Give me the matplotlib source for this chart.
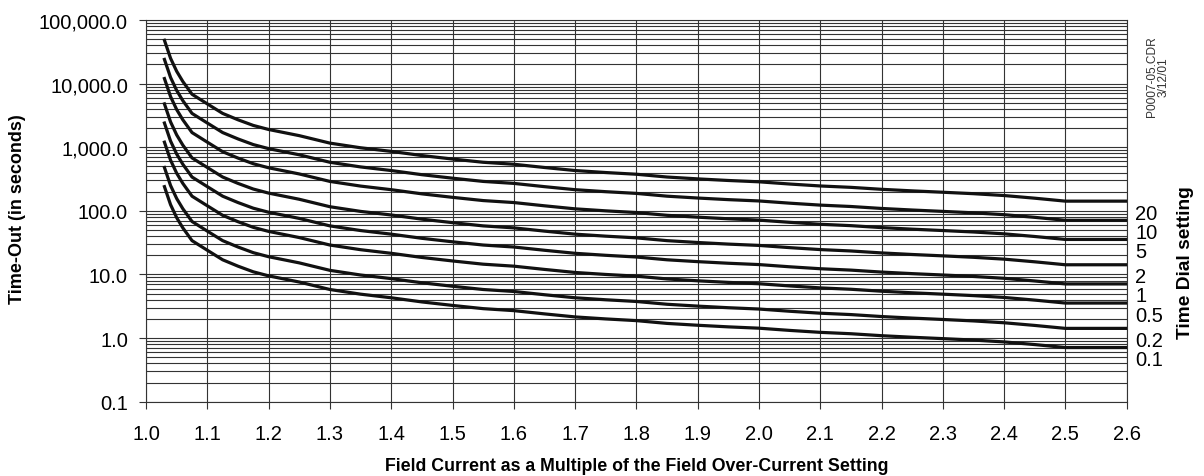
import matplotlib
matplotlib.use("Agg")
import matplotlib.pyplot as plt
from matplotlib.ticker import FixedLocator, FuncFormatter, LogLocator, NullFormatter

plt.rcParams['font.family'] = ['Liberation Sans', 'DejaVu Sans']

# field current (multiple of pickup)
current = [1.03, 1.04, 1.05, 1.06, 1.075, 1.1, 1.125, 1.15, 1.175, 1.2, 1.25, 1.3, 1.35,
           1.4, 1.45, 1.5, 1.55, 1.6, 1.65, 1.7, 1.75, 1.8, 1.85, 1.9, 1.95, 2.0, 2.05,
           2.1, 2.15, 2.2, 2.25, 2.3, 2.35, 2.4, 2.45, 2.5, 2.6]

# time-out in seconds, one list per time dial setting
t_dial_20 = [48000, 25000, 15600, 10800, 6800, 4800, 3400, 2700, 2200, 1900, 1520, 1160, 980,
             860, 740, 652, 580, 540, 480, 430, 400, 376, 340, 318, 300, 286, 264,
             246, 234, 218, 206, 196, 186, 174, 158, 142, 142]
t_dial_10 = [24000, 12500, 7800, 5400, 3400, 2400, 1700, 1350, 1100, 950, 760, 580, 490,
             430, 370, 326, 290, 270, 240, 215, 200, 188, 170, 159, 150, 143, 132,
             123, 117, 109, 103, 98, 93, 87, 79, 71, 71]
t_dial_5 = [12000, 6250, 3900, 2700, 1700, 1200, 850, 675, 550, 475, 380, 290, 245,
            215, 185, 163, 145, 135, 120, 107.5, 100, 94, 85, 79.5, 75, 71.5, 66,
            61.5, 58.5, 54.5, 51.5, 49, 46.5, 43.5, 39.5, 35.5, 35.5]
t_dial_2 = [4800, 2500, 1560, 1080, 680, 480, 340, 270, 220, 190, 152, 116, 98,
            86, 74, 65.2, 58, 54, 48, 43, 40, 37.6, 34, 31.8, 30, 28.6, 26.4,
            24.6, 23.4, 21.8, 20.6, 19.6, 18.6, 17.4, 15.8, 14.2, 14.2]
t_dial_1 = [2400, 1250, 780, 540, 340, 240, 170, 135, 110, 95, 76, 58, 49,
            43, 37, 32.6, 29, 27, 24, 21.5, 20, 18.8, 17, 15.9, 15, 14.3, 13.2,
            12.3, 11.7, 10.9, 10.3, 9.8, 9.3, 8.7, 7.9, 7.1, 7.1]
t_dial_05 = [1200, 625, 390, 270, 170, 120, 85, 67.5, 55, 47.5, 38, 29, 24.5,
             21.5, 18.5, 16.3, 14.5, 13.5, 12, 10.75, 10, 9.4, 8.5, 7.95, 7.5, 7.15, 6.6,
             6.15, 5.85, 5.45, 5.15, 4.9, 4.65, 4.35, 3.95, 3.55, 3.55]
t_dial_02 = [480, 250, 156, 108, 68, 48, 34, 27, 22, 19, 15.2, 11.6, 9.8,
             8.6, 7.4, 6.52, 5.8, 5.4, 4.8, 4.3, 4.0, 3.76, 3.4, 3.18, 3.0, 2.86, 2.64,
             2.46, 2.34, 2.18, 2.06, 1.96, 1.86, 1.74, 1.58, 1.42, 1.42]
t_dial_01 = [240, 125, 78, 54, 34, 24, 17, 13.5, 11, 9.5, 7.6, 5.8, 4.9,
             4.3, 3.7, 3.26, 2.9, 2.7, 2.4, 2.15, 2.0, 1.88, 1.7, 1.59, 1.5, 1.43, 1.32,
             1.23, 1.17, 1.09, 1.03, 0.98, 0.93, 0.87, 0.79, 0.71, 0.71]

dial_labels = ['20', '10', '5', '2', '1', '0.5', '0.2', '0.1']
curves = [t_dial_20, t_dial_10, t_dial_5, t_dial_2, t_dial_1, t_dial_05, t_dial_02, t_dial_01]

x_ticks = [1.0, 1.1, 1.2, 1.3, 1.4, 1.5, 1.6, 1.7, 1.8, 1.9, 2.0, 2.1, 2.2, 2.3, 2.4, 2.5, 2.6]
y_ticks = [0.1, 1, 10, 100, 1000, 10000, 100000]

fig = plt.figure(figsize=(12.04, 4.77), dpi=100)
ax = fig.add_axes([0.1213, 0.1558, 0.8145, 0.8002])

ax.set_yscale('log')
ax.set_xlim(1.0, 2.6)
ax.set_ylim(0.1, 100000)

grid_col = '0.2'
ax.xaxis.set_major_locator(FixedLocator(x_ticks))
ax.xaxis.set_major_formatter(FuncFormatter(lambda v, p: f'{v:.1f}'))
ax.yaxis.set_major_locator(FixedLocator(y_ticks))
ax.yaxis.set_minor_locator(LogLocator(base=10, subs=[2, 3, 4, 5, 6, 7, 8, 9], numticks=20))
ax.yaxis.set_minor_formatter(NullFormatter())
ax.yaxis.set_major_formatter(FuncFormatter(lambda v, p: f'{v:,.1f}'))

ax.grid(True, which='major', axis='both', color=grid_col, lw=0.8)
ax.grid(True, which='minor', axis='y', color=grid_col, lw=0.8)
ax.tick_params(axis='both', which='major', direction='out', length=5, width=0.8,
               color=grid_col, labelsize=14.5)
ax.tick_params(axis='x', pad=11)
ax.tick_params(axis='y', pad=8)
ax.tick_params(axis='y', which='minor', length=0)
for s in ax.spines.values():
    s.set_color(grid_col)
    s.set_linewidth(0.8)

for vals, lab in zip(curves, dial_labels):
    ax.plot(current, vals, color='#111111', lw=2.3, solid_joinstyle='round', zorder=3)
    ax.annotate(lab, xy=(current[-1], vals[-1]), xytext=(6, -8.6), textcoords='offset points',
                ha='left', va='center', fontsize=14.5, annotation_clip=False)

fig.text(0.529, 1 - 467 / 477, 'Field Current as a Multiple of the Field Over-Current Setting',
         ha='center', va='center', fontsize=12.8, fontweight='bold')
fig.text(18 / 1204, 1 - 209 / 477, 'Time-Out (in seconds)', rotation=90, ha='center', va='center',
         fontsize=13, fontweight='bold')
fig.text(1186 / 1204, 1 - 263 / 477, 'Time Dial setting', rotation=90, ha='center', va='center',
         fontsize=13.8, fontweight='bold')
fig.text(1158 / 1204, 1 - 77 / 477, 'P0007-05.CDR\n3/12/01', rotation=90, ha='center',
         va='center', multialignment='center', fontsize=8.6, color='#333333', linespacing=1.0)

fig.savefig('out.png', dpi=100)
